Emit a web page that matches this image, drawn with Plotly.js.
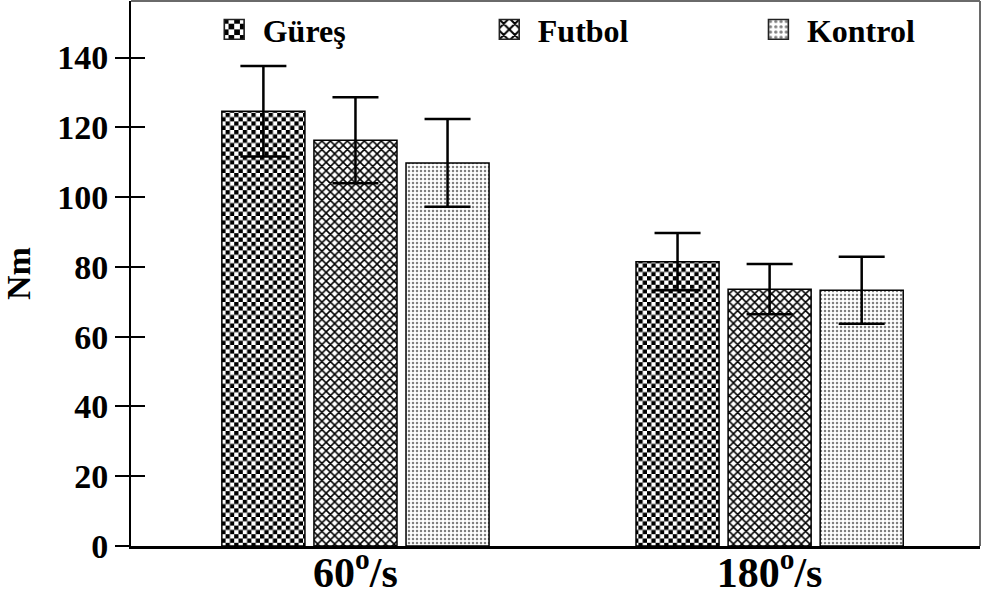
<!DOCTYPE html>
<html>
<head>
<meta charset="utf-8">
<script src="https://cdn.plot.ly/plotly-3.0.1.min.js"></script>
<style>html,body{margin:0;padding:0;background:#fff;}#chart{width:983px;height:597px;}</style>
</head>
<body>
<div id="chart"></div>
<script>
var categories = ["60<sup>o</sup>/s", "180<sup>o</sup>/s"];
var seriesNames = ["Güreş", "Futbol", "Kontrol"];
var guresValues = [124.6, 81.5];
var guresSD = [13.0, 8.2];
var futbolValues = [116.3, 73.6];
var futbolSD = [12.3, 7.2];
var kontrolValues = [109.8, 73.3];
var kontrolSD = [12.6, 9.6];
var yTicks = [0, 20, 40, 60, 80, 100, 120, 140];

var FONT = "Liberation Serif, Times New Roman, serif";
var CHECK_FG = "#010101";

function barTrace(name, vals, sd, pattern, legendId) {
  return {
    type: "bar",
    name: name,
    x: categories,
    y: vals,
    legend: legendId,
    marker: {
      color: "#ffffff",
      line: {color: "#000000", width: 1.5},
      pattern: pattern
    },
    error_y: {type: "data", array: sd, visible: true, color: "#000000", thickness: 2.5, width: 23},
    hoverinfo: "skip"
  };
}

var traces = [
  barTrace(seriesNames[0], guresValues, guresSD, {shape: ".", size: 8.6, solidity: 0.5, fgcolor: CHECK_FG, bgcolor: "#ffffff", fgopacity: 1}, "legend"),
  barTrace(seriesNames[1], futbolValues, futbolSD, {shape: "x", size: 6, solidity: 0.45, fgcolor: "#000000", bgcolor: "#ffffff", fgopacity: 1}, "legend2"),
  barTrace(seriesNames[2], kontrolValues, kontrolSD, {shape: ".", size: 4, solidity: 0.3, fgcolor: "#808080", bgcolor: "#ffffff", fgopacity: 1}, "legend3")
];

function legendCfg(xp) {
  return {
    orientation: "h",
    x: xp, xanchor: "left",
    y: 0.998, yanchor: "top",
    font: {family: FONT, size: 32, color: "#000000", weight: "bold"},
    bgcolor: "rgba(0,0,0,0)",
    itemwidth: 47,
    itemclick: false
  };
}

var layout = {
  width: 983,
  height: 597,
  margin: {l: 131, r: 3, t: 1, b: 51},
  paper_bgcolor: "#ffffff",
  plot_bgcolor: "#ffffff",
  font: {family: FONT, color: "#000000", weight: "bold"},
  barmode: "group",
  bargap: 0.333,
  bargroupgap: 0.098,
  showlegend: true,
  legend: legendCfg(0.088),
  legend2: legendCfg(0.412),
  legend3: legendCfg(0.729),
  xaxis: {
    type: "category",
    range: [-0.542, 1.508],
    showline: true,
    linecolor: "#000000",
    linewidth: 2.5,
    ticks: "",
    showgrid: false,
    zeroline: false,
    tickfont: {family: FONT, size: 42, color: "#000000", weight: "bold"},
    ticklabelstandoff: -12,
    fixedrange: true
  },
  yaxis: {
    range: [0, 156.2],
    tickvals: yTicks,
    ticktext: yTicks.map(String),
    showline: true,
    linecolor: "#000000",
    linewidth: 2,
    ticks: "outside",
    ticklen: 14,
    tickwidth: 2,
    tickcolor: "#000000",
    showgrid: false,
    zeroline: false,
    tickfont: {family: FONT, size: 34, color: "#000000", weight: "bold"},
    title: {text: "Nm", font: {family: FONT, size: 34, color: "#000000", weight: "bold"}, standoff: 18},
    fixedrange: true
  },
  yaxis2: {
    overlaying: "y",
    range: [0, 156.2],
    tickvals: yTicks,
    ticks: "inside",
    ticklen: 14,
    tickwidth: 2,
    tickcolor: "#000000",
    showticklabels: false,
    showline: false,
    showgrid: false,
    zeroline: false,
    fixedrange: true
  },
  shapes: [
    {type: "line", xref: "paper", yref: "paper", x0: 0, x1: 1, y0: 1, y1: 1, line: {color: "#6a6a6a", width: 2}},
    {type: "line", xref: "paper", yref: "paper", x0: 1, x1: 1, y0: 0, y1: 1, line: {color: "#6a6a6a", width: 2}}
  ]
};

traces.push({type: "scatter", x: [categories[0]], y: [0], yaxis: "y2", mode: "markers", marker: {opacity: 0}, showlegend: false, hoverinfo: "skip"});

function restyleDom(gd) {
  var NS = "http://www.w3.org/2000/svg";
  gd.querySelectorAll("pattern").forEach(function(p) {
    var c = p.querySelector("circle");
    if (!c) return;
    var f = (c.getAttribute("fill") || c.style.fill || "").replace(/\s/g, "").toLowerCase();
    if (f === CHECK_FG || f === "rgb(1,1,1)") {
      var w = parseFloat(p.getAttribute("width"));
      var h = parseFloat(p.getAttribute("height"));
      c.parentNode.removeChild(c);
      [[0, 0], [w / 2, h / 2]].forEach(function(o) {
        var r = document.createElementNS(NS, "rect");
        r.setAttribute("x", o[0]); r.setAttribute("y", o[1]);
        r.setAttribute("width", w / 2); r.setAttribute("height", h / 2);
        r.setAttribute("fill", "#000000");
        p.appendChild(r);
      });
    }
  });
  gd.querySelectorAll(".legendpoints path").forEach(function(pt) {
    var t = pt.getAttribute("transform") || "";
    pt.setAttribute("transform", t + " scale(1.65)");
    pt.style.strokeWidth = "1px";
    pt.style.stroke = "#222";
  });
}

Plotly.newPlot("chart", traces, layout, {staticPlot: true, displayModeBar: false}).then(restyleDom);
</script>
</body>
</html>
